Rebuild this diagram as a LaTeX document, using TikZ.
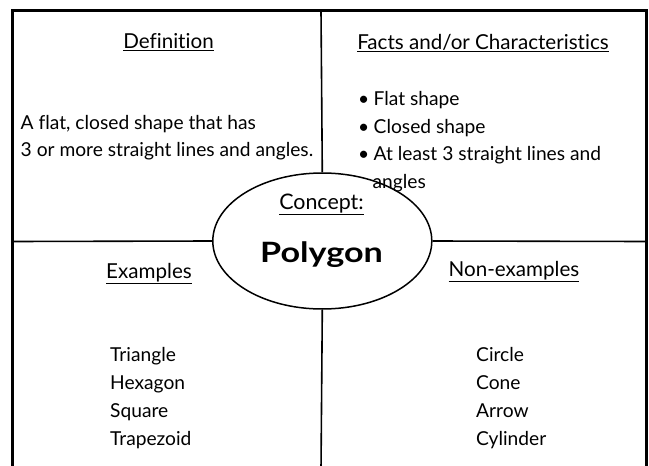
\documentclass[tikz,border=0pt]{standalone}
\usepackage{fontspec}
\setmainfont{Lato}[Ligatures=NoCommon]
\usetikzlibrary{shapes.geometric}

\tikzset{
  frame/.style={line width=3.5pt, line cap=rect},
  divider/.style={line width=1.6pt},
  heading/.style={anchor=base, inner sep=0pt, font=\fontsize{20.6}{24}\selectfont},
  bodytext/.style={anchor=base west, inner sep=0pt, font=\fontsize{19.2}{23}\selectfont},
}

\begin{document}
\begin{tikzpicture}[x=1pt, y=-1pt]
  \useasboundingbox (0,0) rectangle (649,466);

  % outer frame, open at the bottom
  \coordinate (fbl) at (12.5,470);
  \coordinate (ftl) at (12.5,10.5);
  \coordinate (ftr) at (646.5,10.5);
  \coordinate (fbr) at (646.5,470);
  \draw[frame] (fbl) -- (ftl) -- (ftr) -- (fbr);

  % --- Concept ---
  \node (concept) [ellipse, draw, line width=1.5pt, fill=white, inner sep=0pt,
                   minimum width=219pt, minimum height=136pt] at (322.3,241) {};
  \node (c_lbl)   [heading, font=\fontsize{21.4}{24}\selectfont] at (321.5,209) {\underline{Concept:}};
  \node (polygon) [anchor=base, inner sep=0pt, font=\fontsize{28}{30}\selectfont\bfseries]
                  at (321.5,262) {\scalebox{1.22}[1]{Polygon}};

  % dividers
  \coordinate (topmid) at (321,10.5);
  \coordinate (botmid) at (321,470);
  \coordinate (leftmid) at (12.5,241.5);
  \coordinate (rightmid) at (646.5,241.5);
  \draw[divider] (topmid)   -- (concept.north);
  \draw[divider] (concept.south) -- (botmid);
  \draw[divider] (leftmid)  -- (concept.west);
  \draw[divider] (concept.east) -- (rightmid);

  % --- Definition ---
  \node (d_lbl) [heading] at (168.5,48.8) {\underline{Definition}};
  \node (def1) [bodytext] at (20.5,129)   {A flat, closed shape that has};
  \node (def2) [bodytext] at (20.5,156.5) {3 or more straight lines and angles.};

  % --- Facts ---
  \node (f_lbl) [heading] at (483,49) {\underline{Facts and/or Characteristics}};
  \foreach \t [count=\i] in {Flat shape, Closed shape, At least 3 straight lines and}
    \node (fact\i) [bodytext] at (358,{105.5+27.5*(\i-1)})
          {\makebox[15.5pt][l]{\textbullet}\t};
  \node (fact4) [bodytext] at (372.5,188) {angles};

  % --- Examples ---
  \node (e_lbl) [heading] at (149,278) {\underline{Examples}};
  \foreach \w [count=\i] in {Triangle, Hexagon, Square, Trapezoid}
    \node (ex\i) [bodytext] at (110,{361.6+27.8*(\i-1)}) {\w};

  % --- Non-examples ---
  \node (n_lbl) [heading] at (514,276.5) {\underline{Non-examples}};
  \foreach \w [count=\i] in {Circle, Cone, Arrow, Cylinder}
    \node (nex\i) [bodytext] at (476,{361.6+27.8*(\i-1)}) {\w};

\end{tikzpicture}
\end{document}
